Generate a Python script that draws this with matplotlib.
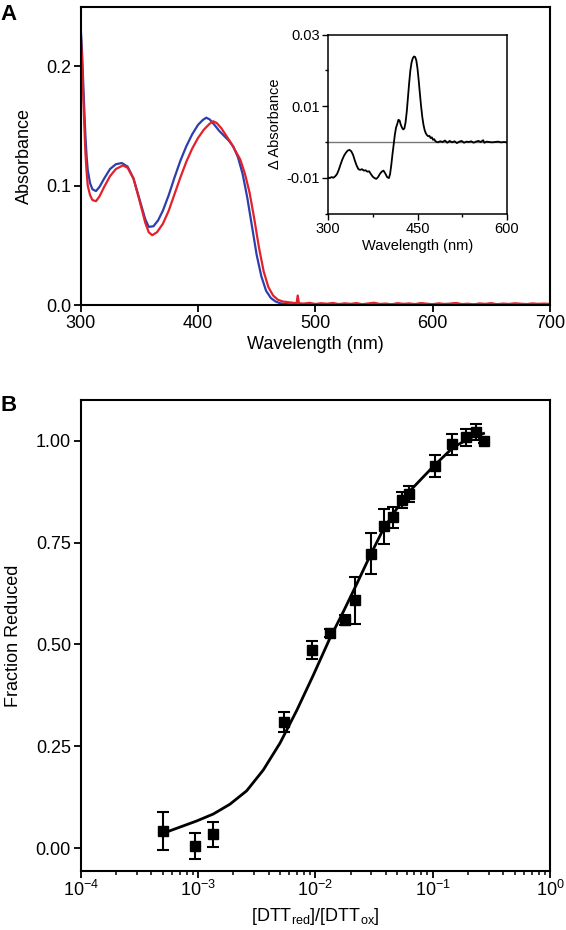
import matplotlib
matplotlib.use('Agg')
import matplotlib.pyplot as plt
from matplotlib.ticker import FormatStrFormatter, LogLocator, NullFormatter, FixedLocator

plt.rcParams['font.family'] = ['Liberation Sans', 'DejaVu Sans']
plt.rcParams['mathtext.default'] = 'regular'
plt.rcParams['axes.unicode_minus'] = False

# ---------------- Panel A: absorbance spectra ----------------
blue_wl = [300, 301, 302, 303, 304, 305, 306, 308, 310, 313, 316, 320, 325, 330, 335,
           340, 345, 350, 355, 358, 362, 366, 370, 375, 380, 385, 390, 395, 400, 404,
           407, 410, 414, 418, 422, 426, 430, 434, 438, 442, 446, 450, 454, 458, 462,
           466, 470, 475, 480, 485]
blue_abs = [0.232, 0.215, 0.190, 0.165, 0.142, 0.125, 0.113, 0.102, 0.097, 0.0955, 0.099,
            0.106, 0.114, 0.118, 0.119, 0.116, 0.106, 0.089, 0.072, 0.0655, 0.066, 0.071,
            0.079, 0.092, 0.107, 0.121, 0.133, 0.143, 0.151, 0.155, 0.157, 0.1555, 0.151,
            0.146, 0.142, 0.138, 0.133, 0.124, 0.110, 0.090, 0.066, 0.042, 0.024, 0.012,
            0.006, 0.003, 0.0015, 0.0008, 0.0005, 0.0004]

red_wl = [300, 301, 302, 303, 304, 305, 306, 308, 310, 313, 316, 320, 325, 330, 336,
          340, 345, 350, 355, 358, 361, 365, 370, 375, 380, 385, 390, 395, 400, 405,
          410, 413, 416, 420, 424, 428, 432, 436, 440, 444, 448, 452, 456, 460, 464,
          468, 472, 476, 480, 484, 485, 486]
red_abs = [0.228, 0.208, 0.180, 0.152, 0.128, 0.112, 0.100, 0.092, 0.088, 0.087, 0.091,
           0.099, 0.108, 0.114, 0.117, 0.115, 0.106, 0.088, 0.069, 0.061, 0.0585, 0.061,
           0.068, 0.079, 0.093, 0.107, 0.120, 0.131, 0.140, 0.147, 0.152, 0.154, 0.1525,
           0.148, 0.142, 0.136, 0.129, 0.122, 0.110, 0.094, 0.072, 0.048, 0.028, 0.015,
           0.008, 0.0045, 0.003, 0.0025, 0.002, 0.0015, 0.008, 0.0015]

tail_wl = list(range(490, 705, 5))
blue_tail = [0.0005, 0.0010, 0.0004, 0.0008, 0.0006, 0.0011, 0.0003, 0.0009, 0.0005, 0.0010,
             0.0004, 0.0007, 0.0012, 0.0005, 0.0008, 0.0003, 0.0010, 0.0006, 0.0009, 0.0004,
             0.0011, 0.0006, 0.0003, 0.0009, 0.0005, 0.0008, 0.0012, 0.0004, 0.0007, 0.0003,
             0.0009, 0.0006, 0.0011, 0.0004, 0.0008, 0.0005, 0.0010, 0.0007, 0.0004, 0.0009,
             0.0006, 0.0008, 0.0005]
red_tail = [0.0012, 0.0018, 0.0009, 0.0015, 0.0011, 0.0017, 0.0008, 0.0014, 0.0010, 0.0016,
            0.0007, 0.0013, 0.0019, 0.0009, 0.0012, 0.0006, 0.0015, 0.0010, 0.0013, 0.0008,
            0.0016, 0.0011, 0.0007, 0.0014, 0.0009, 0.0012, 0.0017, 0.0008, 0.0011, 0.0006,
            0.0013, 0.0010, 0.0015, 0.0007, 0.0012, 0.0009, 0.0014, 0.0011, 0.0008, 0.0013,
            0.0010, 0.0012, 0.0009]

# ---------------- Inset: difference spectrum ----------------
diff_wl = [300, 303, 306, 309, 312, 315, 318, 321, 324, 327, 330, 333, 336, 339, 342,
           345, 348, 351, 354, 357, 360, 363, 366, 369, 372, 375, 378, 381, 384, 387,
           390, 393, 396, 399, 402, 404, 406, 408, 410, 412, 414, 416, 418, 420, 422,
           424, 426, 428, 430, 432, 434, 436, 438, 440, 442, 444, 446, 448, 450, 452,
           454, 456, 458, 460, 462, 464, 466, 468, 470, 472, 474, 476, 478, 480, 484,
           488, 492, 496, 500, 504, 508, 512, 516, 520, 524, 528, 532, 536, 540, 544,
           548, 552, 556, 560, 562, 566, 570, 575, 580, 585, 590, 595, 600]
diff_abs = [-0.0099, -0.0101, -0.0098, -0.0100, -0.0096, -0.0090, -0.0078, -0.0063, -0.0049,
            -0.0038, -0.0030, -0.0024, -0.0022, -0.0026, -0.0036, -0.0052, -0.0066, -0.0076,
            -0.0078, -0.0076, -0.0080, -0.0079, -0.0083, -0.0082, -0.0090, -0.0097, -0.0101,
            -0.0103, -0.0098, -0.0089, -0.0083, -0.0080, -0.0088, -0.0098, -0.0101, -0.0090,
            -0.0065, -0.0035, -0.0008, 0.0020, 0.0040, 0.0050, 0.0062, 0.0060, 0.0048,
            0.0040, 0.0035, 0.0038, 0.0055, 0.0085, 0.0125, 0.0165, 0.0200, 0.0222, 0.0234,
            0.0239, 0.0238, 0.0228, 0.0205, 0.0172, 0.0135, 0.0100, 0.0070, 0.0048, 0.0033,
            0.0024, 0.0019, 0.0016, 0.0017, 0.0011, 0.0013, 0.0006, 0.0008, 0.0002, -0.0001,
            0.0002, 0.0000, 0.0004, -0.0002, 0.0003, -0.0001, 0.0002, -0.0003, 0.0001, 0.0003,
            -0.0002, 0.0001, 0.0000, 0.0002, -0.0002, 0.0001, 0.0003, 0.0000, 0.0005, -0.0002,
            0.0001, 0.0000, -0.0001, 0.0000, 0.0001, -0.0001, 0.0000, -0.0001]

# ---------------- Panel B: redox titration ----------------
ratio = [5.0e-4, 9.5e-4, 1.35e-3, 5.4e-3, 9.4e-3, 1.33e-2, 1.78e-2, 2.2e-2, 3.0e-2,
         3.85e-2, 4.62e-2, 5.5e-2, 6.35e-2, 1.047e-1, 1.46e-1, 1.91e-1, 2.33e-1, 2.72e-1]
frac = [0.042, 0.005, 0.034, 0.310, 0.487, 0.528, 0.560, 0.608, 0.723, 0.790, 0.812,
        0.855, 0.870, 0.937, 0.991, 1.008, 1.022, 1.000]
frac_err = [0.046, 0.032, 0.031, 0.025, 0.022, 0.010, 0.013, 0.057, 0.050, 0.043, 0.025,
            0.020, 0.020, 0.027, 0.026, 0.020, 0.020, 0.005]

fit_ratio = [5.06e-4, 7.03e-4, 9.75e-4, 1.35e-3, 1.87e-3, 2.60e-3, 3.60e-3, 5.0e-3,
             6.94e-3, 9.62e-3, 1.33e-2, 1.73e-2, 2.25e-2, 2.93e-2, 3.80e-2, 4.94e-2,
             6.41e-2, 8.0e-2, 1.014e-1, 1.50e-1, 2.22e-1, 2.72e-1]
fit_frac = [0.037, 0.052, 0.067, 0.084, 0.108, 0.141, 0.192, 0.258, 0.338, 0.425, 0.515,
            0.580, 0.648, 0.718, 0.783, 0.833, 0.877, 0.906, 0.937, 0.984, 1.011, 1.018]

BLUE = '#2c3fae'
RED = '#e3212b'

fig = plt.figure(figsize=(5.66, 9.30), dpi=100)

# ---- Panel A ----
axA = fig.add_axes([0.1426, 0.672, 0.829, 0.3208])
axA.plot(blue_wl + tail_wl, blue_abs + blue_tail, color=BLUE, lw=1.6)
axA.plot(red_wl + tail_wl, red_abs + red_tail, color=RED, lw=1.6)
axA.set_xlim(300, 700)
axA.set_ylim(0, 0.25)
axA.xaxis.set_major_locator(FixedLocator([300, 400, 500, 600, 700]))
axA.yaxis.set_major_locator(FixedLocator([0.0, 0.1, 0.2]))
axA.yaxis.set_major_formatter(FormatStrFormatter('%.1f'))
axA.set_xlabel('Wavelength (nm)', fontsize=13, labelpad=3)
axA.set_ylabel('Absorbance', fontsize=13, labelpad=9)
axA.tick_params(direction='out', length=5, width=1.3, labelsize=13, pad=2)
for s in axA.spines.values():
    s.set_linewidth(1.5)

# ---- Inset ----
axI = fig.add_axes([0.5795, 0.7704, 0.3163, 0.1923])
axI.axhline(0, color='#777777', lw=1.0)
axI.plot(diff_wl, diff_abs, color='black', lw=1.3)
axI.set_xlim(300, 600)
axI.set_ylim(-0.02, 0.03)
axI.xaxis.set_major_locator(FixedLocator([300, 450, 600]))
axI.xaxis.set_minor_locator(FixedLocator([375, 525]))
axI.yaxis.set_major_locator(FixedLocator([-0.01, 0.01, 0.03]))
axI.yaxis.set_minor_locator(FixedLocator([-0.02, 0.0, 0.02]))
axI.yaxis.set_major_formatter(FormatStrFormatter('%.2f'))
axI.set_xlabel('Wavelength (nm)', fontsize=10.5, labelpad=2)
axI.set_ylabel('\u0394 Absorbance', fontsize=10.5, labelpad=3)
axI.tick_params(which='major', direction='out', length=4, width=1.0, labelsize=10.5, pad=2)
axI.tick_params(which='minor', direction='out', length=2.5, width=1.0)
for s in axI.spines.values():
    s.set_linewidth(1.1)

# ---- Panel B ----
axB = fig.add_axes([0.1426, 0.0638, 0.829, 0.5061])
axB.plot(fit_ratio, fit_frac, color='black', lw=2.0, zorder=2)
axB.errorbar(ratio, frac, yerr=frac_err, fmt='s', color='black', ms=6.5,
             elinewidth=1.5, capsize=4, capthick=1.5, zorder=3)
axB.set_xscale('log')
axB.set_xlim(1e-4, 1)
axB.set_ylim(-0.055, 1.10)
axB.xaxis.set_major_locator(LogLocator(base=10, numticks=10))
axB.xaxis.set_minor_locator(LogLocator(base=10, subs=[2, 3, 4, 5, 6, 7, 8, 9], numticks=20))
axB.xaxis.set_minor_formatter(NullFormatter())
axB.yaxis.set_major_locator(FixedLocator([0.0, 0.25, 0.5, 0.75, 1.0]))
axB.yaxis.set_major_formatter(FormatStrFormatter('%.2f'))
axB.set_xlabel(r'[DTT$_{red}$]/[DTT$_{ox}$]', fontsize=13, labelpad=4)
axB.set_ylabel('Fraction Reduced', fontsize=13, labelpad=10)
axB.tick_params(which='major', direction='out', length=5, width=1.3, labelsize=13, pad=2)
axB.tick_params(which='minor', direction='out', length=3, width=1.1)
for s in axB.spines.values():
    s.set_linewidth(1.5)

fig.text(0.0, 1 - 14 / 930, 'A', fontsize=16, fontweight='bold', va='center', ha='left')
fig.text(0.0, 1 - 405 / 930, 'B', fontsize=16, fontweight='bold', va='center', ha='left')

fig.savefig('out.png', dpi=100)
